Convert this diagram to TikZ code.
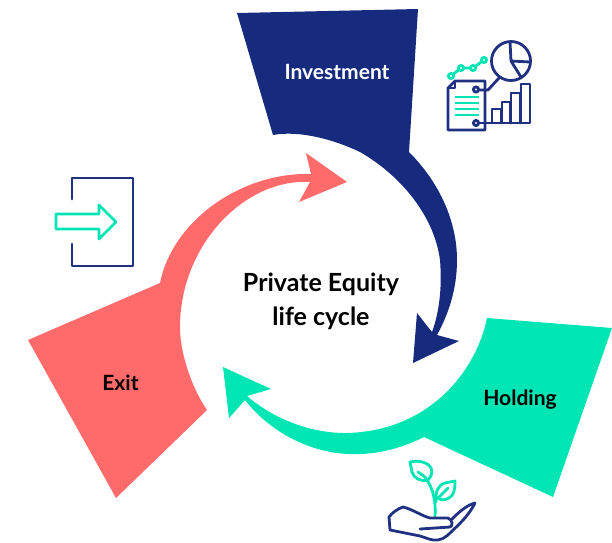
\documentclass[tikz,border=0pt]{standalone}
\usepackage{fontspec}
\setmainfont{Lato}
\definecolor{navy}{HTML}{172B7E}
\definecolor{iconnavy}{HTML}{1F3180}
\definecolor{teal}{HTML}{00E5B4}
\definecolor{salmon}{HTML}{FF6B6B}
\tikzset{
  lbl/.style={font=\fontsize{21}{24}\selectfont\bfseries,text=black,inner sep=0pt},
  title/.style={font=\fontsize{25}{34}\selectfont\bfseries,text=black,align=center,inner sep=0pt},
  ln/.style={draw=iconnavy,line width=2.8pt,line join=round,line cap=round,fill=none},
  tl/.style={draw=teal,line width=2.8pt,line join=round,line cap=round,fill=none}
}
\begin{document}
\begin{tikzpicture}[x=1pt,y=-1pt]
\useasboundingbox (0,0) rectangle (612,542);
% navy
\fill[navy] (237,13) -- (418,9) -- (409,152)
  .. controls (440,183) and (457,222) .. (457,260)
  .. controls (457,290) and (448,315) .. (437,335)
  -- (459,341) -- (413,363) -- (417,313) -- (432,332)
  .. controls (440,310) and (442,285) .. (440,260)
  .. controls (434,215) and (400,175) .. (360,152)
  .. controls (335,140) and (300,130) .. (273,135) -- cycle;
% salmon
\fill[salmon] (28,340) -- (160,283)
  .. controls (172,222) and (240,172) .. (311,174)
  -- (306,153) -- (347,182) -- (299,202) -- (310,182)
  .. controls (245,178) and (180,245) .. (180,327)
  .. controls (180,355) and (193,390) .. (207,410)
  -- (116,498) -- cycle;
% teal
\fill[teal] (487,318) -- (612,328) -- (553,497) -- (424,437)
  .. controls (400,449) and (375,455) .. (350,454)
  .. controls (310,453) and (270,432) .. (245,400)
  -- (229,418) -- (223,367) -- (271,389) -- (247,396)
  .. controls (275,420) and (312,433) .. (345,433)
  .. controls (428,432) and (476,372) .. (487,318) -- cycle;
% labels
\node[lbl,text=white] (inv) at (337,72) {Investment};
\node[lbl] (hold) at (520,399.5) {Holding};
\node[lbl] (exit) at (120.5,382.5) {Exit};
\node[title] (ttl) at (321,301.5) {Private Equity\\life cycle};
% chart icon
\draw[tl] (451,76) -- (461,68) -- (473,68) -- (484,60);
\foreach \p in {(451,76),(461,68),(473,68),(484,60)} \draw[tl,fill=white] \p circle (2.6);
\draw[ln] (511,61) circle (19.5);
\draw[ln] (510,42) -- (511,61) -- (530,62) (511,61) -- (521,77);
\draw[ln] (499,78) -- (488,90) -- (480,90);
\draw[ln] (455,81) -- (485,81) -- (485,130) -- (448,130) -- (448,88) -- cycle;
\draw[ln,line width=1.8pt] (455,81) -- (455,88) -- (448,88);
\foreach \y in {97,103,109,115} \draw[tl,line cap=butt,line width=2.4pt] (455,\y) -- (479,\y);
\draw[ln,fill=white] (476,89.5) circle (2.6);
\draw[ln,fill=white] (476,123) circle (2.6);
\draw[ln] (480,123) -- (530,123) -- (530,84) -- (521,84) -- (521,123);
\draw[ln] (520,123) -- (520,93) -- (511,93) -- (511,123);
\draw[ln] (510,123) -- (510,102) -- (502,102) -- (502,123);
\draw[ln] (501,123) -- (501,109) -- (492,109) -- (492,123);
% exit icon
\draw[ln] (72,199) -- (72,178) -- (133,178) -- (133,266) -- (72,266) -- (72,244);
\draw[tl] (56,214) -- (99,214) -- (99,205) -- (116,222) -- (99,239) -- (99,229) -- (56,229) -- cycle;
% plant icon
\draw[tl] (435,516) .. controls (436,500) and (433,488) .. (425,477);
\draw[tl] (418,472) -- (425,477);
\draw[tl] (410,462) .. controls (418,460) and (428,462) .. (431,468) .. controls (433,472) and (431,477) .. (428,480) .. controls (420,482) and (414,478) .. (412,472) -- cycle;
\draw[tl] (436,502) .. controls (435,492) and (438,485) .. (445,483) -- (455,481) .. controls (455,490) and (454,495) .. (449,498) .. controls (444,501) and (440,500) .. (436,497);
\draw[tl] (438,498) -- (448,488);
\draw[ln] (420,529) -- (450,527) .. controls (453,526) and (453,520) .. (448,518) -- (430,518) .. controls (422,516) and (412,509) .. (403,507) .. controls (397,509) and (392,513) .. (389,517) -- (390,530) -- (420,536) .. controls (427,538) and (432,541) .. (438,540) .. controls (445,539) and (450,533) .. (453,530) .. controls (462,522) and (470,513) .. (475,503) .. controls (467,505) and (459,512) .. (452,519);
\end{tikzpicture}
\end{document}
